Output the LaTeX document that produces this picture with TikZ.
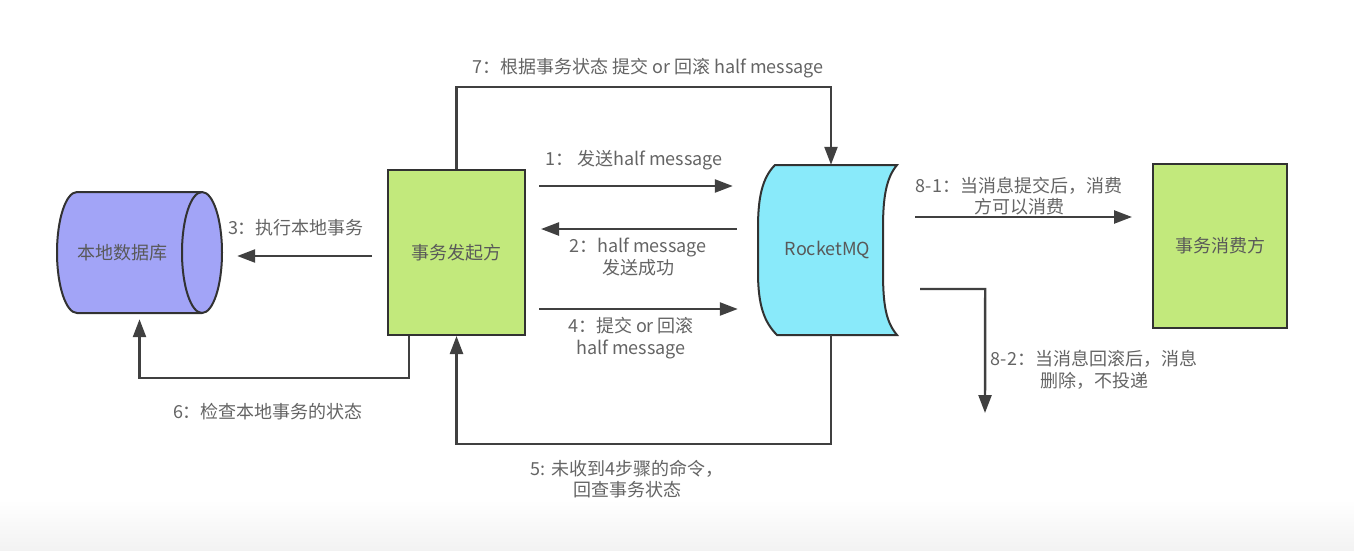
\documentclass[tikz,border=0pt]{standalone}
\usepackage{fontspec}
\setmainfont{Noto Sans CJK SC}
\usetikzlibrary{arrows.meta,calc}
\definecolor{linec}{RGB}{64,64,64}
\definecolor{txtc}{RGB}{100,100,100}
\definecolor{dbfill}{RGB}{162,164,247}
\definecolor{greenfill}{RGB}{194,233,124}
\definecolor{mqfill}{RGB}{137,234,250}
\definecolor{edgec}{RGB}{50,50,50}
\begin{document}
\begin{tikzpicture}[x=1pt,y=-1pt,
  font=\fontsize{18}{21.5}\selectfont,
  conn/.style={draw=linec, line width=2.4pt, -{Triangle[length=18pt,width=13pt]}},
  lbl/.style={text=txtc, align=center, inner sep=0pt},
  shapeline/.style={draw=edgec, line width=2pt},
  box/.style={shapeline, fill=greenfill, text=black!65, inner sep=0pt},
  ghost/.style={inner sep=0pt, text=black!65}]
\useasboundingbox (0,0) rectangle (1354,550);
\shade[top color=white, bottom color=black!5] (0,500) rectangle (1354,550);

% local database (horizontal cylinder)
\path[shapeline, fill=dbfill] (77,192) -- (202,192)
  arc[start angle=90,end angle=-90,x radius=20pt,y radius=60.5pt] -- (77,313)
  arc[start angle=270,end angle=90,x radius=20pt,y radius=60.5pt] -- cycle;
\draw[shapeline] (202,192) arc[start angle=90,end angle=270,x radius=20pt,y radius=60.5pt];
\node[ghost, minimum width=165pt, minimum height=121pt] (db) at (139.5,252.5) {\hspace*{-35pt}本地数据库};

% initiator
\node[box, minimum width=137pt, minimum height=165pt] (init) at (456.5,252.5) {事务发起方};

% RocketMQ
\path[shapeline, fill=mqfill] (775,165) -- (897,165)
  .. controls (886,178) and (883,198) .. (883,228) -- (883,272)
  .. controls (883,305) and (886,322) .. (897,335) -- (777,335)
  .. controls (764,322) and (758,305) .. (758,272) -- (758,228)
  .. controls (758,198) and (762,178) .. (775,165) -- cycle;
\node[ghost, minimum width=139pt, minimum height=170pt] (mq) at (827.5,250) {RocketMQ};

% consumer
\node[box, minimum width=134pt, minimum height=164pt] (cons) at (1220,246) {事务消费方};

\coordinate (e82) at (985,413);

% connectors
\draw[conn] ([xshift=13pt,yshift=66.5pt]init.east) -- ([xshift=-25pt,yshift=64pt]mq.west);
\draw[conn] ([xshift=-21pt,yshift=21pt]mq.west) -- ([xshift=15pt,yshift=23.5pt]init.east);
\draw[conn] ([xshift=13pt,yshift=-56.5pt]init.east) -- ([xshift=-20pt,yshift=-59pt]mq.west);
\draw[conn] ([xshift=-15pt,yshift=-3.5pt]init.west) -- ([xshift=15pt,yshift=-3.5pt]db.east);
\draw[conn] ([xshift=-47.5pt]init.south) -- ++(0,42) -| ([yshift=-6pt]db.south);
\draw[conn] (init.north) -- ++(0,-82) -| ([xshift=3.5pt]mq.north);
\draw[conn] ([xshift=3.5pt]mq.south) -- ++(0,109) -| (init.south);
\draw[conn] ([xshift=18pt,yshift=33pt]mq.east) -- ([xshift=-20pt,yshift=29pt]cons.west);
\draw[conn] ([xshift=23pt,yshift=-39pt]mq.east) -- ++(65,0) -- (e82);

% labels
\node[lbl] (l7) at (648,68) {7：根据事务状态 提交 or 回滚 half message};
\node[lbl] (l1) at (634,160) {1： 发送half message};
\node[lbl] (l2) at (638,257) {2：half message\\发送成功};
\node[lbl] (l4) at (631,338) {4：提交 or 回滚\\half message};
\node[lbl] (l3) at (296,228) {3：执行本地事务};
\node[lbl] (l6) at (268,412) {6：检查本地事务的状态};
\node[lbl] (l5) at (627,479) {5: 未收到4步骤的命令，\\回查事务状态};
\node[lbl] (l81) at (1019,196) {8-1：当消息提交后，消费\\方可以消费};
\node[lbl] (l82) at (1094,370) {8-2：当消息回滚后，消息\\删除，不投递};
\end{tikzpicture}
\end{document}
